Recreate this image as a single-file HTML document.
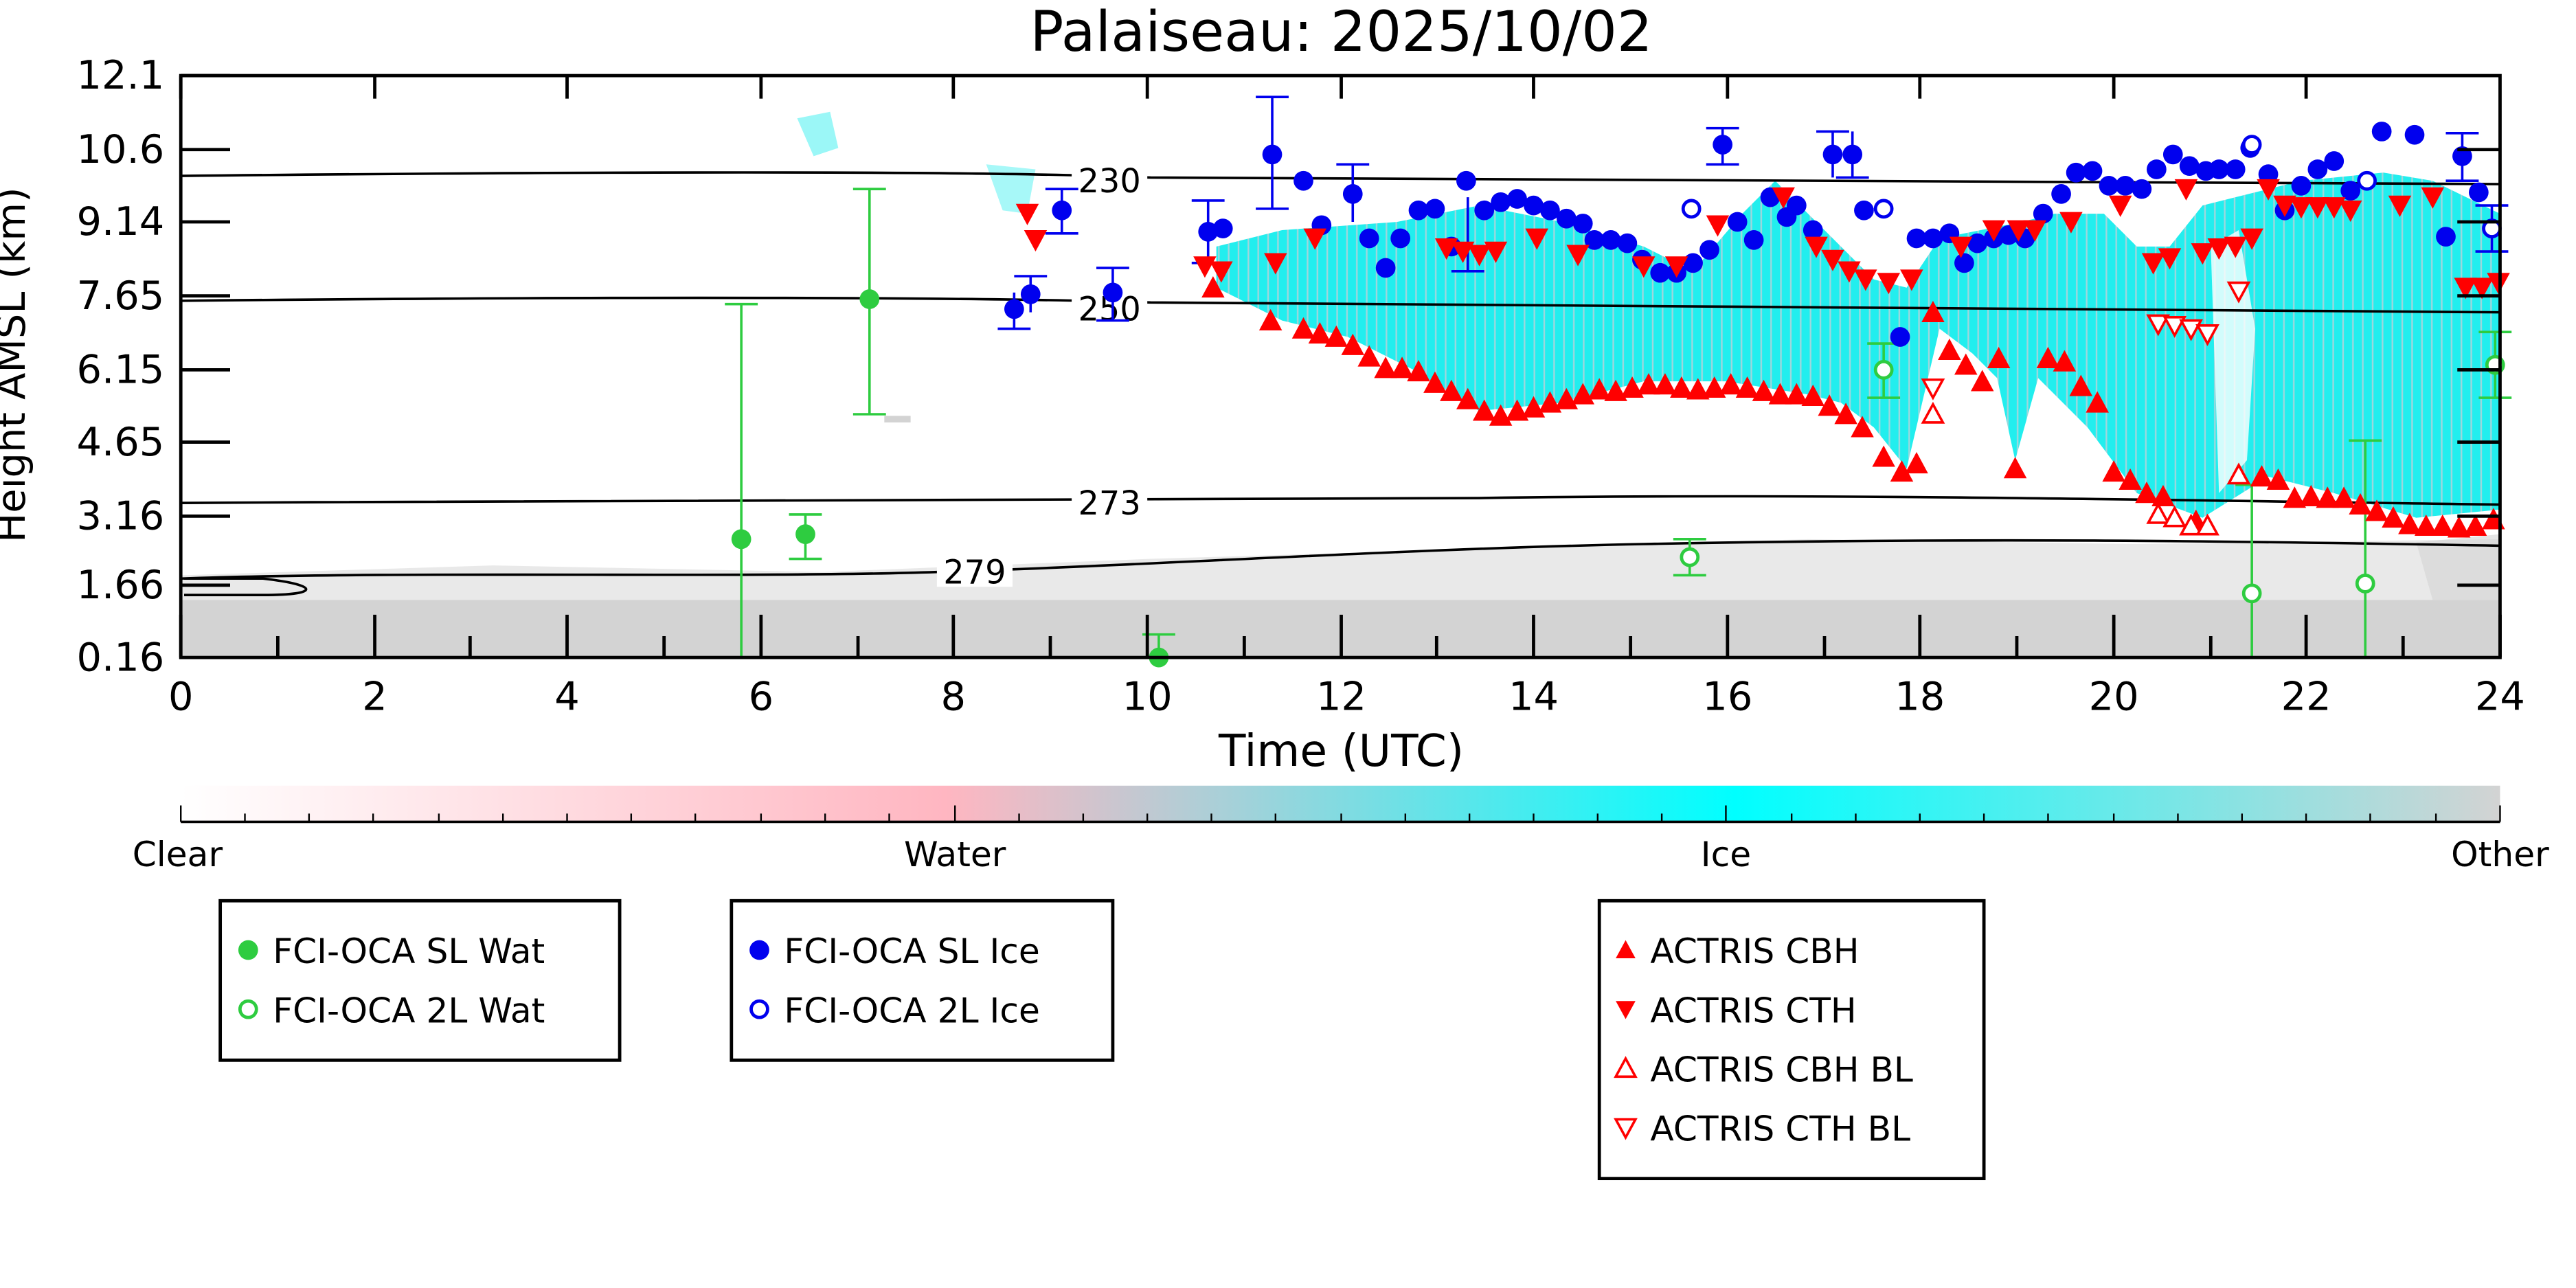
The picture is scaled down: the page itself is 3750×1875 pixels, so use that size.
<!DOCTYPE html>
<html><head><meta charset="utf-8"><style>html,body{margin:0;padding:0;background:#fff}svg{display:block}</style></head>
<body>
<svg width="3750" height="1875" viewBox="0 0 1567.2 783.6" xmlns="http://www.w3.org/2000/svg" font-family="'DejaVu Sans','Liberation Sans',sans-serif">
<defs>
<linearGradient id="cb" x1="0" x2="1" y1="0" y2="0">
<stop offset="0" stop-color="#ffffff"/><stop offset="0.33" stop-color="#ffb6c1"/><stop offset="0.45" stop-color="#a8d0d8"/><stop offset="0.67" stop-color="#00ffff"/><stop offset="1" stop-color="#d3d3d3"/>
</linearGradient>
<pattern id="hatch" width="6" height="40" patternUnits="userSpaceOnUse"><rect width="6" height="40" fill="#22eeee"/><rect x="3" width="1" height="40" fill="#f0c8d0" opacity="0.6"/></pattern>
<clipPath id="pc"><rect x="110" y="46" width="1411" height="354"/></clipPath>
</defs>
<rect width="1570" height="790" fill="#fff"/>
<text x="816" y="31" font-size="34" text-anchor="middle">Palaiseau: 2025/10/02</text>
<g clip-path="url(#pc)">
<rect x="110" y="365" width="1411" height="40" fill="#d3d3d3"/>
<path d="M110 365 L110 350 L300 344 L500 348 L700 340 L900 334 L1100 328 L1300 331 L1521 328 L1521 365 Z" fill="#d3d3d3" opacity="0.5"/>
<path d="M1470 330 L1521 325 L1521 365 L1480 365 Z" fill="#d3d3d3" opacity="0.6"/>
<path d="M740 150 L780 140 L850 135 L900 125 L950 135 L1000 150 L1030 165 L1060 130 L1080 110 L1100 130 L1140 170 L1160 175 L1180 145 L1230 135 L1250 130 L1280 130 L1300 150 L1320 150 L1340 125 L1360 120 L1400 110 L1450 105 L1480 110 L1521 130 L1521 310 L1470 315 L1420 300 L1380 290 L1340 315 L1300 300 L1270 260 L1250 240 L1240 230 L1226 280 L1215 230 L1200 215 L1180 200 L1160 285 L1140 260 L1120 245 L1100 240 L1050 232 L1000 232 L950 245 L900 250 L860 225 L820 205 L780 195 L760 185 L740 175 Z" fill="url(#hatch)"/>
<path d="M1345 150 L1362 140 L1372 200 L1367 280 L1350 300 Z" fill="#fff" opacity="0.8"/>
<path d="M485 72 L505 68 L510 90 L495 95 Z" fill="#22eeee" opacity="0.45"/>
<path d="M600 100 L630 103 L625 130 L610 128 Z" fill="#22eeee" opacity="0.4"/>
<rect x="538" y="253" width="16" height="4" fill="#d3d3d3"/>
<g fill="none" stroke="#000" stroke-width="1.5">
<path d="M110 107 C400 104 600 104 700 108 C900 110 1200 108 1521 112"/>
<path d="M110 183 C400 180 600 181 700 184 C900 185 1200 187 1521 190"/>
<path d="M110 306 C400 304 700 305 900 303 C1100 300 1300 304 1521 307"/>
<path d="M110 352 C250 347 450 352 570 348 C700 344 850 334 1000 331 C1200 327 1350 329 1521 332"/>
<path d="M112 352 L160 352 C195 356 195 362 160 362 L112 362"/>
</g>
</g>
<g font-size="20" text-anchor="middle">
<rect x="652" y="99" width="46" height="20" fill="#fff"/><text x="675" y="117">230</text>
<rect x="652" y="177" width="46" height="20" fill="#fff"/><text x="675" y="195">250</text>
<rect x="652" y="295" width="46" height="20" fill="#fff"/><text x="675" y="313">273</text>
<rect x="570" y="337" width="46" height="20" fill="#fff"/><text x="593" y="355">279</text>
</g>
<g stroke="#2ecc40" stroke-width="1.5" fill="none">
<path d="M451 185V400M441 185H461M490 313V340M480 313H500M480 340H500M529 115V252M519 115H539M519 252H539M705 386V400M695 386H715"/>
<path d="M1028 328V350M1018 328H1038M1018 350H1038M1146 209V242M1136 209H1156M1136 242H1156M1370 295V400M1360 295H1380M1439 268V400M1429 268H1449M1518 202V242M1508 202H1528M1508 242H1528"/>
</g>
<g stroke="#0000ee" stroke-width="1.5" fill="none">
<path d="M774 59V127M764 59H784M764 127H784M617 178V200M607 200H627M627 168V190M617 168H637M646 115V142M636 115H656M636 142H656M677 163V195M667 163H687M667 195H687M735 122V160M725 122H745M725 160H745M1048 78V100M1038 78H1058M1038 100H1058M1115 80V108M1105 80H1125M1127 80V108M1117 108H1137M1498 81V110M1488 81H1508M1488 110H1508M1516 125V153M1506 125H1526M1506 153H1526M823 100V135M813 100H833M893 120V165M883 165H903"/>
</g>
<g fill="#0000ee">
<circle cx="617" cy="188" r="6"/><circle cx="627" cy="179" r="6"/><circle cx="646" cy="128" r="6"/><circle cx="677" cy="178" r="6"/><circle cx="735" cy="141" r="6"/><circle cx="744" cy="139" r="6"/><circle cx="774" cy="94" r="6"/><circle cx="793" cy="110" r="6"/><circle cx="804" cy="137" r="6"/><circle cx="823" cy="118" r="6"/><circle cx="833" cy="145" r="6"/><circle cx="843" cy="163" r="6"/><circle cx="852" cy="145" r="6"/><circle cx="863" cy="128" r="6"/><circle cx="873" cy="127" r="6"/><circle cx="883" cy="150" r="6"/><circle cx="892" cy="110" r="6"/><circle cx="903" cy="128" r="6"/><circle cx="913" cy="123" r="6"/><circle cx="923" cy="121" r="6"/><circle cx="933" cy="125" r="6"/><circle cx="943" cy="128" r="6"/><circle cx="953" cy="133" r="6"/><circle cx="963" cy="136" r="6"/><circle cx="970" cy="146" r="6"/><circle cx="980" cy="146" r="6"/><circle cx="990" cy="148" r="6"/><circle cx="999" cy="158" r="6"/><circle cx="1010" cy="166" r="6"/><circle cx="1020" cy="166" r="6"/><circle cx="1030" cy="160" r="6"/><circle cx="1040" cy="152" r="6"/><circle cx="1048" cy="88" r="6"/><circle cx="1057" cy="135" r="6"/><circle cx="1067" cy="146" r="6"/><circle cx="1077" cy="120" r="6"/><circle cx="1087" cy="132" r="6"/><circle cx="1093" cy="125" r="6"/><circle cx="1103" cy="140" r="6"/><circle cx="1115" cy="94" r="6"/><circle cx="1127" cy="94" r="6"/><circle cx="1134" cy="128" r="6"/><circle cx="1156" cy="205" r="6"/><circle cx="1166" cy="145" r="6"/><circle cx="1176" cy="145" r="6"/><circle cx="1186" cy="142" r="6"/><circle cx="1195" cy="160" r="6"/><circle cx="1203" cy="148" r="6"/><circle cx="1213" cy="145" r="6"/><circle cx="1222" cy="143" r="6"/><circle cx="1232" cy="145" r="6"/><circle cx="1243" cy="130" r="6"/><circle cx="1254" cy="118" r="6"/><circle cx="1263" cy="105" r="6"/><circle cx="1273" cy="104" r="6"/><circle cx="1283" cy="113" r="6"/><circle cx="1293" cy="113" r="6"/><circle cx="1303" cy="115" r="6"/><circle cx="1312" cy="103" r="6"/><circle cx="1322" cy="94" r="6"/><circle cx="1332" cy="101" r="6"/><circle cx="1342" cy="104" r="6"/><circle cx="1350" cy="103" r="6"/><circle cx="1360" cy="103" r="6"/><circle cx="1369" cy="90" r="6"/><circle cx="1380" cy="106" r="6"/><circle cx="1390" cy="128" r="6"/><circle cx="1400" cy="113" r="6"/><circle cx="1410" cy="103" r="6"/><circle cx="1420" cy="98" r="6"/><circle cx="1430" cy="116" r="6"/><circle cx="1449" cy="80" r="6"/><circle cx="1469" cy="82" r="6"/><circle cx="1488" cy="144" r="6"/><circle cx="1498" cy="95" r="6"/><circle cx="1508" cy="117" r="6"/>
</g>
<g fill="#fff" stroke="#0000ee" stroke-width="2">
<circle cx="1029" cy="127" r="5"/><circle cx="1146" cy="127" r="5"/><circle cx="1370" cy="88" r="5"/><circle cx="1440" cy="110" r="5"/><circle cx="1516" cy="139" r="5"/>
</g>
<g fill="#2ecc40"><circle cx="451" cy="328" r="6"/><circle cx="490" cy="325" r="6"/><circle cx="529" cy="182" r="6"/><circle cx="705" cy="400" r="6"/></g>
<g fill="#fff" stroke="#2ecc40" stroke-width="2"><circle cx="1028" cy="339" r="5"/><circle cx="1146" cy="225" r="5"/><circle cx="1370" cy="361" r="5"/><circle cx="1439" cy="355" r="5"/><circle cx="1518" cy="222" r="5"/></g>
<g id="cbh"></g><g id="cth"></g><g id="bl1"></g>
<script>
(function(){
var NS="http://www.w3.org/2000/svg";
function tri(g,x,y,up,open){var p=document.createElementNS(NS,"path");var s=open?6:7;
p.setAttribute("d",up?("M"+x+" "+(y-s)+"L"+(x+s)+" "+(y+s-1)+"L"+(x-s)+" "+(y+s-1)+"Z"):("M"+x+" "+(y+s)+"L"+(x+s)+" "+(y-s+1)+"L"+(x-s)+" "+(y-s+1)+"Z"));
if(open){p.setAttribute("fill","#fff");p.setAttribute("stroke","#ff0000");p.setAttribute("stroke-width","1.5");}else p.setAttribute("fill","#ff0000");
g.appendChild(p);}
var g=document.getElementById("cbh");
var up=[[738,175],[773,195],[793,200],[803,203],[813,205],[823,210],[833,217],[843,224],[853,224],[863,226],[873,233],[883,238],[893,243],[903,250],[913,253],[923,250],[933,248],[943,245],[953,243],[963,240],[973,237],[983,238],[993,236],[1003,234],[1013,234],[1023,236],[1033,237],[1043,236],[1053,234],[1063,236],[1073,238],[1083,240],[1093,240],[1103,241],[1113,247],[1123,252],[1133,260],[1146,278],[1157,287],[1166,282],[1176,190],[1186,213],[1196,222],[1206,232],[1216,218],[1226,285],[1246,218],[1256,220],[1266,235],[1276,245],[1286,287],[1296,292],[1306,300],[1316,302],[1336,317],[1376,290],[1386,292],[1396,303],[1406,302],[1416,303],[1426,303],[1436,307],[1446,311],[1456,315],[1466,319],[1476,320],[1486,320],[1496,321],[1506,320],[1517,316]];
up.forEach(function(p){tri(g,p[0],p[1],true,false)});
var dn=[[625,130],[630,146],[733,162],[743,165],[776,160],[800,145],[880,151],[890,153],[900,155],[910,153],[935,145],[960,155],[1000,162],[1020,162],[1045,137],[1085,120],[1105,150],[1115,158],[1125,165],[1135,170],[1149,172],[1163,170],[1193,150],[1213,140],[1228,140],[1238,140],[1260,135],[1290,125],[1310,160],[1320,157],[1330,115],[1340,154],[1350,151],[1360,150],[1370,145],[1380,115],[1390,125],[1400,126],[1410,126],[1420,126],[1430,128],[1460,125],[1480,120],[1500,175],[1510,175],[1520,172]];
var g2=document.getElementById("cth");dn.forEach(function(p){tri(g2,p[0],p[1],false,false)});
var g3=document.getElementById("bl1");
[[1176,252],[1313,313],[1323,315],[1333,320],[1343,320],[1362,289]].forEach(function(p){tri(g3,p[0],p[1],true,true)});
[[1176,236],[1313,197],[1323,198],[1333,200],[1343,203],[1362,177]].forEach(function(p){tri(g3,p[0],p[1],false,true)});
})();
</script>
<rect x="110" y="46" width="1411" height="354" fill="none" stroke="#000" stroke-width="2"/>
<g stroke="#000" stroke-width="2">
<path d="M110 400V374M228 400V374M345 400V374M463 400V374M580 400V374M698 400V374M816 400V374M933 400V374M1051 400V374M1168 400V374M1286 400V374M1403 400V374M1521 400V374"/>
<path d="M169 400V387M286 400V387M404 400V387M522 400V387M639 400V387M757 400V387M874 400V387M992 400V387M1110 400V387M1227 400V387M1345 400V387M1462 400V387"/>
<path d="M110 46V60M228 46V60M345 46V60M463 46V60M580 46V60M698 46V60M816 46V60M933 46V60M1051 46V60M1168 46V60M1286 46V60M1403 46V60"/>
<path d="M110 46H140M110 91H140M110 135H140M110 180H140M110 225H140M110 269H140M110 314H140M110 356H140M1521 91H1495M1521 135H1495M1521 180H1495M1521 225H1495M1521 269H1495M1521 314H1495M1521 356H1495"/>
</g>
<g font-size="24" text-anchor="end">
<text x="100" y="54">12.1</text><text x="100" y="99">10.6</text><text x="100" y="143">9.14</text><text x="100" y="188">7.65</text><text x="100" y="233">6.15</text><text x="100" y="277">4.65</text><text x="100" y="322">3.16</text><text x="100" y="364">1.66</text><text x="100" y="408">0.16</text>
</g>
<g font-size="24" text-anchor="middle">
<text x="110" y="432">0</text><text x="228" y="432">2</text><text x="345" y="432">4</text><text x="463" y="432">6</text><text x="580" y="432">8</text><text x="698" y="432">10</text><text x="816" y="432">12</text><text x="933" y="432">14</text><text x="1051" y="432">16</text><text x="1168" y="432">18</text><text x="1286" y="432">20</text><text x="1403" y="432">22</text><text x="1521" y="432">24</text>
<text x="816" y="466" font-size="27">Time (UTC)</text>
</g>
<text transform="translate(15 222) rotate(-90)" font-size="24" text-anchor="middle">Height AMSL (km)</text>
<rect x="110" y="478" width="1411" height="22" fill="url(#cb)"/>
<path d="M110 500H1521" stroke="#000" stroke-width="1.5"/>
<g stroke="#000" stroke-width="1">
<path d="M110 500V490M581 500V490M1050 500V490M1521 500V490M149 500V495M188 500V495M227 500V495M267 500V495M306 500V495M345 500V495M384 500V495M423 500V495M463 500V495M502 500V495M541 500V495M620 500V495M659 500V495M698 500V495M737 500V495M776 500V495M816 500V495M855 500V495M894 500V495M933 500V495M972 500V495M1011 500V495M1090 500V495M1129 500V495M1168 500V495M1207 500V495M1246 500V495M1286 500V495M1325 500V495M1364 500V495M1403 500V495M1442 500V495M1482 500V495"/>
</g>
<g font-size="21" text-anchor="middle">
<text x="108" y="527">Clear</text><text x="581" y="527">Water</text><text x="1050" y="527">Ice</text><text x="1521" y="527">Other</text>
</g>
<g fill="#fff" stroke="#000" stroke-width="2">
<rect x="134" y="548" width="243" height="97"/><rect x="445" y="548" width="232" height="97"/><rect x="973" y="548" width="234" height="169"/>
</g>
<g font-size="21">
<circle cx="151" cy="578" r="6" fill="#2ecc40"/><text x="166" y="586">FCI-OCA SL Wat</text>
<circle cx="151" cy="614" r="5" fill="#fff" stroke="#2ecc40" stroke-width="2"/><text x="166" y="622">FCI-OCA 2L Wat</text>
<circle cx="462" cy="578" r="6" fill="#0000ee"/><text x="477" y="586">FCI-OCA SL Ice</text>
<circle cx="462" cy="614" r="5" fill="#fff" stroke="#0000ee" stroke-width="2"/><text x="477" y="622">FCI-OCA 2L Ice</text>
<path d="M989 572L995 583L983 583Z" fill="#f00"/><text x="1004" y="586">ACTRIS CBH</text>
<path d="M989 620L995 609L983 609Z" fill="#f00"/><text x="1004" y="622">ACTRIS CTH</text>
<path d="M989 644L995 655L983 655Z" fill="#fff" stroke="#f00" stroke-width="1.5"/><text x="1004" y="658">ACTRIS CBH BL</text>
<path d="M989 692L995 681L983 681Z" fill="#fff" stroke="#f00" stroke-width="1.5"/><text x="1004" y="694">ACTRIS CTH BL</text>
</g>
</svg>
</body></html>
